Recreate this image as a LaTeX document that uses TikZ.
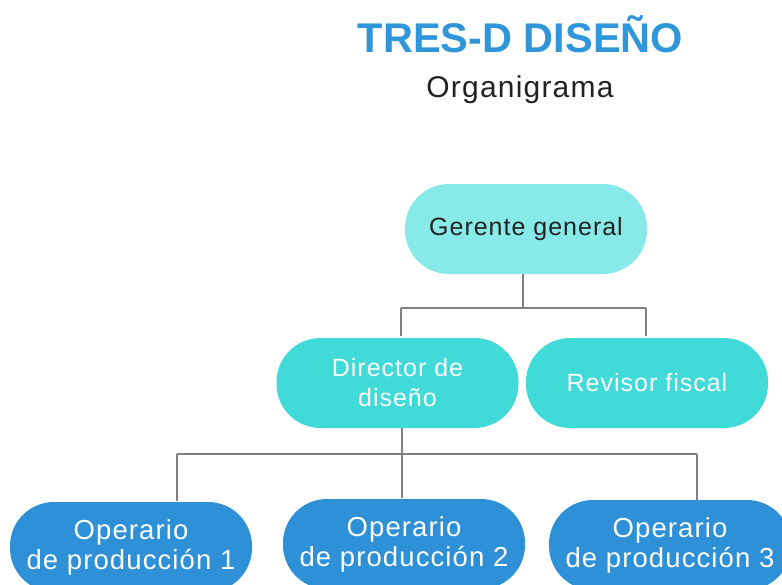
\documentclass[tikz,border=0pt]{standalone}
\usepackage{fontspec}
\setmainfont{Liberation Sans}
\newfontfamily\boxfont[LetterSpace=4]{Liberation Sans}
\definecolor{titleblue}{HTML}{2F96DA}
\definecolor{lightcyan}{HTML}{88EAE8}
\definecolor{midcyan}{HTML}{40DBD8}
\definecolor{opblue}{HTML}{2E90D6}
\definecolor{linegray}{HTML}{808080}
\definecolor{darktext}{HTML}{222222}
\begin{document}
\begin{tikzpicture}[x=1pt,y=-1pt,
  box/.style={rectangle, rounded corners=44pt, minimum width=242pt, minimum height=90pt,
              inner sep=0pt, align=center},
  topbox/.style={box, fill=lightcyan, text=darktext, font=\boxfont\fontsize{25}{30}\selectfont},
  midbox/.style={box, fill=midcyan, text=white, font=\boxfont\fontsize{25}{30}\selectfont},
  opbox/.style={box, fill=opblue, text=white, font=\boxfont\fontsize{27.5}{30}\selectfont},
  conn/.style={draw=linegray, line width=1.4pt}]
\useasboundingbox (0,0) rectangle (782,584);
\clip (0,0) rectangle (782,584);
\fill[white] (0,0) rectangle (782,584);

\node[anchor=base, text=titleblue, font=\fontsize{41.5}{45}\selectfont\bfseries] (title) at (520.5,52) {TRES-D DISEÑO};
\node[anchor=base, text=darktext, font=\boxfont\fontsize{30}{34}\selectfont] (sub) at (520,97) {Organigrama};

\node[topbox] (ger) at (526,229) {Gerente general};
\node[midbox] (dir) at (397.5,383) {Director de\\diseño};
\node[midbox] (rev) at (647,383) {Revisor fiscal};
\node[opbox] (op1) at (131,547) {Operario\\de producción 1};
\node[opbox] (op2) at (404,544) {Operario\\de producción 2};
\node[opbox] (op3) at (670,545) {Operario\\de producción 3};

\coordinate (j1) at (523,308);
\coordinate (j1l) at (401,308);
\coordinate (j1r) at (646,308);
\coordinate (j2) at (402,454);
\coordinate (j2l) at (177,454);
\coordinate (j2r) at (697,454);

\draw[conn] (ger.south -| j1) -- (j1);
\draw[conn] (j1l) -- (j1r);
\draw[conn] (j1l) -- ([yshift=2pt]dir.north -| j1l);
\draw[conn] (j1r) -- ([yshift=2pt]rev.north -| j1r);

\draw[conn] (dir.south -| j2) -- ([yshift=1pt]op2.north -| j2);
\draw[conn] (j2l) -- (j2r);
\draw[conn] (j2l) -- ([yshift=1pt]op1.north -| j2l);
\draw[conn] (j2r) -- ([yshift=-1pt]op3.north -| j2r);
\end{tikzpicture}
\end{document}
